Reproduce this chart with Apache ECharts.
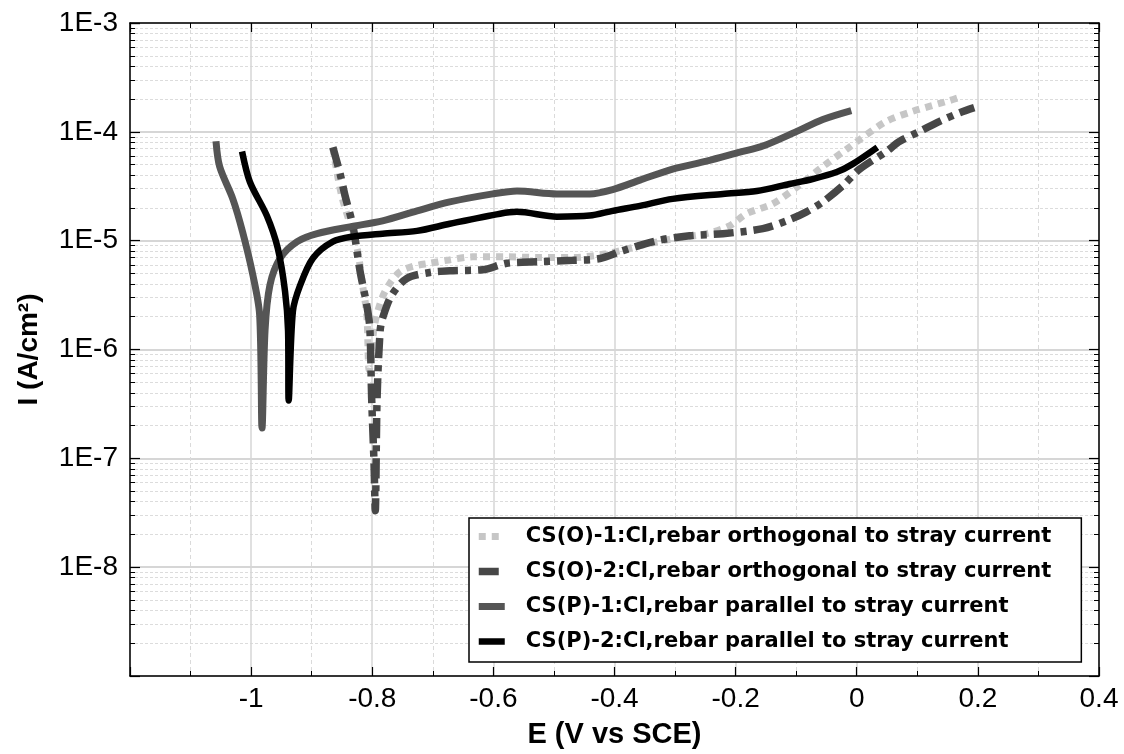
<!DOCTYPE html>
<html>
<head>
<meta charset="utf-8">
<title>Tafel</title>
<script src="https://cdn.jsdelivr.net/npm/echarts@6/dist/echarts.min.js"></script>
<style>
    html, body { margin: 0; padding: 0; background: #fff; }
    .tafel { width: 1124px; height: 754px; }
</style>
</head>
<body>
<div class="tafel"></div>
<script>
// 图例名称
var names = [
    'CS(O)-1:Cl,rebar orthogonal to stray current',
    'CS(O)-2:Cl,rebar orthogonal to stray current',
    'CS(P)-1:Cl,rebar parallel to stray current',
    'CS(P)-2:Cl,rebar parallel to stray current'
];
// 刻度
var xTicks = [-1.2, -1, -0.8, -0.6, -0.4, -0.2, 0, 0.2, 0.4];
var yDecades = [-9, -8, -7, -6, -5, -4, -3];

// CS(O)-1 电位 / 电流密度
var o1E = [-0.865, -0.857, -0.849, -0.825, -0.816, -0.809, -0.805, -0.796, -0.784, -0.771, -0.754, -0.733, -0.705, -0.677, -0.634, -0.578, -0.523, -0.469, -0.413, -0.358, -0.304, -0.248, -0.210, -0.182, -0.139, -0.099, -0.056, -0.017, 0.005, 0.049, 0.092, 0.148, 0.173];
var o1I = [7.1e-5, 3.9e-5, 2.4e-5, 8.5e-6, 3.9e-6, 2.1e-6, 6.5e-7, 1.7e-6, 2.95e-6, 4.05e-6, 5.2e-6, 5.8e-6, 6.2e-6, 6.6e-6, 7.1e-6, 7.1e-6, 7.0e-6, 7.0e-6, 7.6e-6, 9.0e-6, 1.04e-5, 1.16e-5, 1.37e-5, 1.77e-5, 2.18e-5, 3.1e-5, 4.8e-5, 6.9e-5, 8.5e-5, 1.25e-4, 1.54e-4, 1.9e-4, 2.1e-4];
// CS(O)-2
var o2E = [-0.865, -0.853, -0.845, -0.832, -0.820, -0.809, -0.804, -0.801, -0.797, -0.795, -0.792, -0.787, -0.783, -0.768, -0.743, -0.705, -0.667, -0.618, -0.578, -0.523, -0.469, -0.424, -0.386, -0.330, -0.276, -0.221, -0.155, -0.111, -0.083, -0.056, -0.023, 0.005, 0.049, 0.071, 0.104, 0.137, 0.170, 0.194];
var o2I = [7.2e-5, 4.1e-5, 2.6e-5, 1.37e-5, 5.2e-6, 2.55e-6, 1.57e-6, 3.6e-7, 8.8e-8, 3.3e-8, 3.6e-7, 1.48e-6, 1.94e-6, 3.15e-6, 4.5e-6, 5.1e-6, 5.3e-6, 5.4e-6, 6.2e-6, 6.4e-6, 6.6e-6, 6.85e-6, 8.1e-6, 1.0e-5, 1.11e-5, 1.16e-5, 1.29e-5, 1.56e-5, 1.84e-5, 2.27e-5, 3.2e-5, 4.55e-5, 6.6e-5, 8.2e-5, 1.01e-4, 1.25e-4, 1.5e-4, 1.67e-4];
// CS(P)-1
var p1E = [-1.058, -1.052, -1.030, -1.014, -0.997, -0.986, -0.982, -0.977, -0.969, -0.952, -0.924, -0.891, -0.837, -0.783, -0.726, -0.672, -0.601, -0.561, -0.495, -0.441, -0.403, -0.358, -0.304, -0.248, -0.193, -0.155, -0.099, -0.056, -0.009];
var p1I = [8.2e-5, 4.8e-5, 2.4e-5, 1.2e-5, 4.8e-6, 2.1e-6, 1.9e-7, 1.5e-6, 3.9e-6, 6.9e-6, 9.8e-6, 1.16e-5, 1.34e-5, 1.52e-5, 1.88e-5, 2.27e-5, 2.69e-5, 2.86e-5, 2.69e-5, 2.69e-5, 2.95e-5, 3.6e-5, 4.55e-5, 5.38e-5, 6.5e-5, 7.4e-5, 1.01e-4, 1.3e-4, 1.57e-4];
// CS(P)-2
var p2E = [-1.015, -1.002, -0.974, -0.956, -0.944, -0.939, -0.938, -0.931, -0.919, -0.898, -0.865, -0.832, -0.783, -0.726, -0.672, -0.589, -0.561, -0.495, -0.441, -0.403, -0.358, -0.304, -0.221, -0.165, -0.111, -0.073, -0.033, -0.007, 0.034];
var p2I = [6.6e-5, 3.46e-5, 1.69e-5, 8.5e-6, 3.42e-6, 1.48e-6, 3.4e-7, 2.25e-6, 3.9e-6, 6.9e-6, 9.8e-6, 1.09e-5, 1.16e-5, 1.23e-5, 1.43e-5, 1.77e-5, 1.84e-5, 1.66e-5, 1.7e-5, 1.88e-5, 2.09e-5, 2.42e-5, 2.69e-5, 2.86e-5, 3.32e-5, 3.68e-5, 4.27e-5, 5.05e-5, 7.2e-5];

(function() {
    var myChart = echarts.init(document.querySelector('.tafel'))

    function zip(e, i) {
        return e.map(function(v, k) { return [v, i[k]] })
    }
    var labelFont = 'Liberation Sans, Arial, sans-serif'

    // 底部/顶部 x 轴
    function xAxisOf(pos, main) {
        return {
            type: 'value',
            position: pos,
            min: xTicks[0],
            max: xTicks[xTicks.length - 1],
            interval: 0.2,
            axisLine: { onZero: false, lineStyle: { color: '#000', width: 1.5 } },
            axisTick: { inside: true, length: 9, lineStyle: { color: '#000', width: 1.2 } },
            minorTick: { show: true, splitNumber: 2, length: 5, lineStyle: { color: '#000', width: 1 } },
            axisLabel: {
                show: main,
                color: '#000',
                fontSize: 28,
                fontFamily: labelFont,
                margin: 9,
                formatter: function(v) {
                    var r = Math.round(v * 10) / 10
                    return r === xTicks[0] ? '' : String(r)
                }
            },
            splitLine: { show: main, lineStyle: { color: '#d6d6d6', width: 1.5 } },
            minorSplitLine: { show: main, lineStyle: { color: '#dadada', width: 1, type: [4, 3] } },
            name: main ? 'E (V vs SCE)' : '',
            nameLocation: 'middle',
            nameGap: 44,
            nameTextStyle: { color: '#000', fontSize: 29, fontWeight: 'bold', fontFamily: labelFont }
        }
    }
    // 左/右 对数 y 轴
    function yAxisOf(pos, main) {
        return {
            type: 'log',
            logBase: 10,
            position: pos,
            min: Math.pow(10, yDecades[0]),
            max: Math.pow(10, yDecades[yDecades.length - 1]),
            splitNumber: 6,
            axisLine: { onZero: false, lineStyle: { color: '#000', width: 1.5 } },
            axisTick: { inside: true, length: 10, lineStyle: { color: '#000', width: 1.2 } },
            minorTick: { show: true, splitNumber: 9, length: 5, lineStyle: { color: '#000', width: 1 } },
            axisLabel: {
                show: main,
                color: '#000',
                fontSize: 28,
                fontFamily: labelFont,
                margin: 12,
                formatter: function(v) {
                    var p = Math.round(Math.log10(v))
                    return p === yDecades[0] ? '' : '1E' + p
                }
            },
            splitLine: { show: main, lineStyle: { color: '#d6d6d6', width: 2 } },
            minorSplitLine: { show: main, lineStyle: { color: '#dcdcdc', width: 1, type: [3, 2] } },
            name: main ? 'I (A/cm²)' : '',
            nameLocation: 'middle',
            nameGap: 87,
            nameRotate: 90,
            nameTextStyle: { color: '#000', fontSize: 28, fontWeight: 'bold', fontFamily: labelFont }
        }
    }

    var option = {
        animation: false,
        backgroundColor: '#fff',
        grid: { left: 130, right: 25, top: 23, bottom: 77 },
        xAxis: [xAxisOf('bottom', true), xAxisOf('top', false)],
        yAxis: [yAxisOf('left', true), yAxisOf('right', false)],
        legend: {
            orient: 'vertical',
            left: 469,
            top: 518,
            padding: [8, 30, 10, 6],
            itemGap: 14,
            itemWidth: 26,
            itemHeight: 8,
            backgroundColor: '#fff',
            borderColor: '#000',
            borderWidth: 1.5,
            // 图例线条沿用系列线宽，隐藏圆点
            lineStyle: { width: 'inherit' },
            itemStyle: { opacity: 0 },
            textStyle: { color: '#000', fontSize: 21, fontWeight: 'bold', fontFamily: 'DejaVu Sans', padding: [0, 0, 0, 16] },
            data: names
        },
        series: [{
            name: names[0],
            type: 'line',
            showSymbol: false,
            symbol: 'none',
            smooth: 0.3,
            data: zip(o1E, o1I),
            lineStyle: { color: '#c6c6c6', width: 7, type: [7, 6], cap: 'butt' },
            itemStyle: { color: '#c6c6c6' }
        }, {
            name: names[1],
            type: 'line',
            showSymbol: false,
            symbol: 'none',
            smooth: 0.3,
            data: zip(o2E, o2I),
            lineStyle: { color: '#474747', width: 7.5, type: [20, 7, 6, 7], cap: 'butt' },
            itemStyle: { color: '#474747' }
        }, {
            name: names[2],
            type: 'line',
            showSymbol: false,
            symbol: 'none',
            smooth: 0.3,
            data: zip(p1E, p1I),
            lineStyle: { color: '#555', width: 7, join: 'round' },
            itemStyle: { color: '#555' }
        }, {
            name: names[3],
            type: 'line',
            showSymbol: false,
            symbol: 'none',
            smooth: 0.3,
            data: zip(p2E, p2I),
            lineStyle: { color: '#000', width: 6.5, join: 'round' },
            itemStyle: { color: '#000' }
        }]
    }
    myChart.setOption(option)
    window.addEventListener('resize', function() {
        myChart.resize()
    })
})();
</script>
</body>
</html>
